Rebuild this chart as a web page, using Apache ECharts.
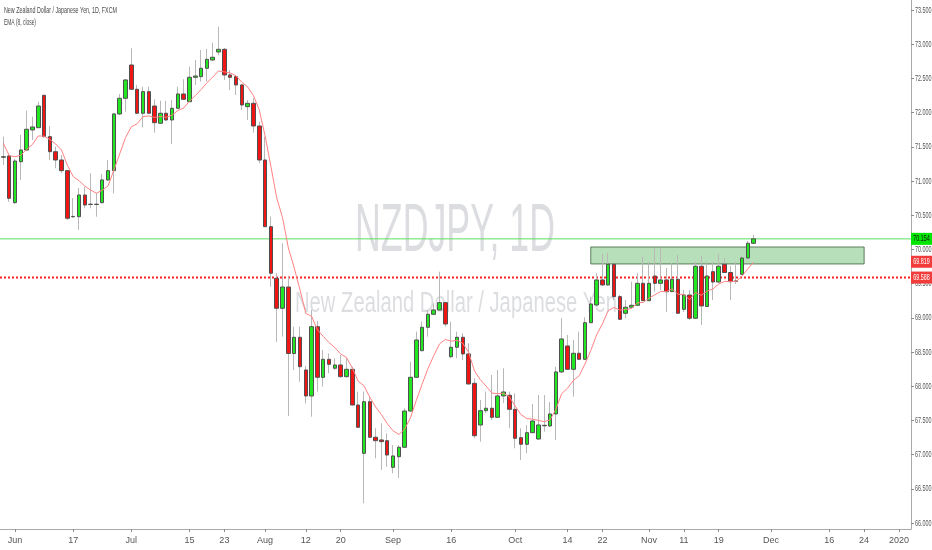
<!DOCTYPE html>
<html><head><meta charset="utf-8">
<script src="https://cdn.jsdelivr.net/npm/echarts@6/dist/echarts.min.js"></script>
<style>html,body{margin:0;padding:0;background:#fff}#main{width:932px;height:550px}</style>
</head><body><div id="main"></div>
<script>
// ---------- DATA ----------
const dates = [
'2019-05-30','2019-05-31',
'2019-06-03','2019-06-04','2019-06-05','2019-06-06','2019-06-07','2019-06-10','2019-06-11','2019-06-12','2019-06-13','2019-06-14',
'2019-06-17','2019-06-18','2019-06-19','2019-06-20','2019-06-21','2019-06-24','2019-06-25','2019-06-26','2019-06-27','2019-06-28',
'2019-07-01','2019-07-02','2019-07-03','2019-07-04','2019-07-05','2019-07-08','2019-07-09','2019-07-10','2019-07-11','2019-07-12',
'2019-07-15','2019-07-16','2019-07-17','2019-07-18','2019-07-19','2019-07-22','2019-07-23','2019-07-24','2019-07-25','2019-07-26',
'2019-07-29','2019-07-30','2019-07-31',
'2019-08-01','2019-08-02','2019-08-05','2019-08-06','2019-08-07','2019-08-08','2019-08-09','2019-08-12','2019-08-13','2019-08-14',
'2019-08-15','2019-08-16','2019-08-19','2019-08-20','2019-08-21','2019-08-22','2019-08-23','2019-08-26','2019-08-27','2019-08-28',
'2019-08-29','2019-08-30',
'2019-09-02','2019-09-03','2019-09-04','2019-09-05','2019-09-06','2019-09-09','2019-09-10','2019-09-11','2019-09-12','2019-09-13',
'2019-09-16','2019-09-17','2019-09-18','2019-09-19','2019-09-20','2019-09-23','2019-09-24','2019-09-25','2019-09-26','2019-09-27',
'2019-09-30',
'2019-10-01','2019-10-02','2019-10-03','2019-10-04','2019-10-07','2019-10-08','2019-10-09','2019-10-10','2019-10-11','2019-10-14',
'2019-10-15','2019-10-16','2019-10-17','2019-10-18','2019-10-21','2019-10-22','2019-10-23','2019-10-24','2019-10-25','2019-10-28',
'2019-10-29','2019-10-30','2019-10-31',
'2019-11-01','2019-11-04','2019-11-05','2019-11-06','2019-11-07','2019-11-08','2019-11-11','2019-11-12','2019-11-13','2019-11-14',
'2019-11-15','2019-11-18','2019-11-19','2019-11-20','2019-11-21','2019-11-22','2019-11-25','2019-11-26','2019-11-27','2019-11-28',
'2019-11-29',
'2019-12-02','2019-12-03','2019-12-04','2019-12-05','2019-12-06','2019-12-09','2019-12-10','2019-12-11','2019-12-12','2019-12-13',
'2019-12-16','2019-12-17','2019-12-18','2019-12-19','2019-12-20','2019-12-23','2019-12-24','2019-12-25','2019-12-26','2019-12-27',
'2019-12-30','2019-12-31',
'2020-01-01','2020-01-02','2020-01-03'
];

const opens = [
71.347,71.366,70.683,71.282,71.453,71.746,71.779,72.253,71.648,71.428,
71.307,71.151,70.477,70.478,70.795,70.656,70.656,70.683,71.015,71.151,
71.980,72.209,72.696,72.341,71.990,72.306,72.096,71.844,71.990,71.892,
72.063,72.272,72.159,72.516,72.525,72.648,72.769,72.886,72.925,72.550,
72.525,72.404,72.086,72.136,71.804,71.307,70.332,69.578,69.139,69.450,
68.478,68.715,68.237,67.857,68.870,68.130,68.393,68.262,68.310,68.139,
68.247,67.725,67.019,67.773,67.253,67.214,67.203,66.814,66.969,67.107,
67.637,68.130,68.519,68.861,69.051,69.114,69.221,68.431,68.569,68.715,
68.471,68.042,67.433,67.642,67.677,67.545,67.857,67.867,67.662,67.247,
67.151,67.320,67.228,67.428,67.418,67.594,68.208,68.588,68.247,68.481,
68.393,68.928,69.187,69.553,69.480,69.782,69.309,69.066,69.154,69.183,
69.504,69.250,69.611,69.504,69.553,69.382,69.563,69.124,69.333,68.993,
69.753,69.165,69.674,69.523,69.782,69.662,69.538,69.636,69.874,70.089
];
const closes = [
71.355,70.747,71.292,71.453,71.756,71.790,72.096,71.648,71.428,71.307,
71.151,70.455,70.482,70.795,70.649,70.661,70.661,71.015,71.151,71.980,
72.209,72.477,72.341,71.990,72.306,71.990,71.852,71.990,71.892,72.063,
72.272,72.194,72.516,72.535,72.648,72.779,72.809,72.925,72.550,72.516,
72.404,72.111,72.136,71.804,71.307,70.332,69.651,69.139,69.450,68.478,
68.715,68.285,67.857,68.870,68.130,68.393,68.320,68.310,68.139,68.247,
67.725,67.399,67.773,67.253,67.203,67.189,66.994,66.980,67.107,67.637,
68.130,68.675,68.861,69.051,69.114,69.221,68.909,68.569,68.715,68.471,
68.032,67.276,67.642,67.677,67.545,67.857,67.915,67.662,67.238,67.151,
67.320,67.491,67.433,67.421,67.594,68.208,68.690,68.247,68.481,68.393,
68.928,69.202,69.553,69.480,69.782,69.309,68.978,69.154,69.183,69.504,
69.250,69.504,69.504,69.553,69.382,69.563,69.066,69.333,68.993,69.753,
69.173,69.611,69.523,69.753,69.662,69.528,69.534,69.874,70.089,70.154
];
const lows = [
71.234,70.697,70.664,71.015,71.439,71.599,71.775,71.636,71.307,71.186,
71.113,70.430,70.459,70.284,70.601,70.601,70.478,70.671,71.000,70.820,
71.965,72.013,72.330,71.980,71.785,71.980,71.706,71.833,71.877,71.541,
72.053,72.184,72.155,72.404,72.452,72.452,72.754,72.842,72.477,72.330,
72.257,72.038,71.892,71.706,71.259,70.328,69.455,68.650,68.724,67.564,
68.237,68.066,67.750,67.554,67.920,67.993,68.189,68.237,68.127,68.127,
67.718,67.389,66.288,67.243,66.946,66.775,66.823,66.727,66.654,67.097,
67.623,68.120,68.507,68.724,69.041,69.107,68.870,68.408,68.408,68.383,
68.025,67.238,67.189,67.608,67.506,67.535,67.754,67.385,67.092,66.921,
67.019,67.316,67.214,67.335,67.404,67.214,68.193,68.237,67.847,68.383,
68.383,68.924,69.173,69.465,69.465,69.260,68.968,68.993,69.143,69.173,
69.246,69.246,69.382,69.406,69.085,69.377,69.056,69.085,68.968,68.983,
68.895,69.158,69.260,69.509,69.655,69.260,69.494,69.626,69.860,70.079
];
const highs = [
71.648,71.409,71.322,71.673,72.028,71.940,72.159,72.257,71.804,71.502,
71.380,71.161,70.751,70.898,70.917,71.113,70.825,71.102,71.307,71.994,
72.272,72.491,72.940,72.404,72.379,72.379,72.194,72.174,72.174,72.184,
72.379,72.487,72.671,72.769,72.915,72.930,73.022,73.256,72.944,72.623,
72.535,72.418,72.184,72.209,71.867,71.648,70.478,69.651,70.089,69.601,
68.870,68.870,68.295,69.114,68.953,68.529,68.481,68.408,68.456,68.408,
68.285,67.920,67.920,67.847,67.385,67.458,67.311,67.140,67.140,67.677,
68.358,68.797,68.943,69.114,69.212,69.674,69.231,68.943,68.797,68.773,
68.627,68.116,67.798,67.920,68.164,68.237,68.262,67.920,67.896,67.385,
67.433,67.740,67.871,67.871,67.769,68.285,68.993,68.749,68.675,68.797,
69.007,69.309,69.651,69.933,69.947,69.787,69.333,69.260,69.528,69.651,
69.893,69.816,70.016,70.020,69.728,69.801,69.918,69.406,69.406,69.816,
69.904,69.816,69.816,69.933,69.874,69.757,69.816,69.904,70.123,70.211
];

// EMA(8, close): value at the first visible bar
const emaFirst = 71.55;
const emaPeriod = 8;

const xTickDates = ['2019-06-03','2019-06-17','2019-07-01','2019-07-15','2019-07-23','2019-08-01','2019-08-12','2019-08-20',
  '2019-09-02','2019-09-16','2019-10-01','2019-10-14','2019-10-22','2019-11-01','2019-11-11','2019-11-19',
  '2019-12-02','2019-12-16','2019-12-24','2020-01-01'];
const xTickLabels = ['Jun','17','Jul','15','23','Aug','12','20','Sep','16','Oct','14','22','Nov','11','19','Dec','16','24','2020'];
const yTicks = [66.0,66.5,67.0,67.5,68.0,68.5,69.0,69.5,70.0,70.5,71.0,71.5,72.0,72.5,73.0,73.5];

const lastPrice = 70.154;
const emaLabelValue = 69.819;
const supportLevel = 69.588;
const zoneDates = ['2019-10-18','2019-12-24'];
const zonePrices = [69.787, 70.035];

const titleText = 'New Zealand Dollar / Japanese Yen, 1D, FXCM';
const indicatorText = 'EMA (8, close)';
const watermarkBig = 'NZDJPY, 1D';
const watermarkSmall = 'New Zealand Dollar / Japanese Yen';

// ---------- BUILD ----------
const FONT = '"Liberation Sans", Arial, sans-serif';
const X_MIN = -0.58, X_MAX = 156.06;
const idx = d => dates.indexOf(d);
const candleData = opens.map((o, i) => [i, o, closes[i], lows[i], highs[i]]);
const bodyData = opens.map((o, i) => [i, o, closes[i], Math.min(o, closes[i]), Math.max(o, closes[i])]);
const ema = [emaFirst];
const k = 2 / (emaPeriod + 1);
for (let i = 1; i < closes.length; i++) ema.push(ema[i - 1] + k * (closes[i] - ema[i - 1]));
const emaData = ema.map((v, i) => [i, v]);
const xTickIdx = xTickDates.map(idx);
const xLabelMap = {};
xTickIdx.forEach((v, i) => { xLabelMap[v] = xTickLabels[i]; });

const chart = echarts.init(document.getElementById('main'), null, {renderer: 'canvas'});
const option = {
  animation: false,
  backgroundColor: '#ffffff',
  grid: {left: 0, right: 21, top: 0, bottom: 21, containLabel: false},
  xAxis: {
    type: 'value', min: X_MIN, max: X_MAX,
    axisLine: {show: true, onZero: false, lineStyle: {color: '#a9a9a9', width: 1}},
    axisTick: {show: true, customValues: xTickIdx, length: 3, lineStyle: {color: '#8a8a8a'}},
    axisLabel: {show: true, customValues: xTickIdx, formatter: v => xLabelMap[Math.round(v)] || '',
      color: '#555', fontSize: 9, fontFamily: FONT, margin: 7},
    splitLine: {show: false}
  },
  yAxis: {
    type: 'value', position: 'right', min: 65.912, max: 73.646,
    axisLine: {show: true, onZero: false, lineStyle: {color: '#a9a9a9', width: 1}},
    axisTick: {show: true, customValues: yTicks, length: 3, lineStyle: {color: '#8a8a8a'}},
    axisLabel: {show: false},
    splitLine: {show: false}
  },
  series: [
    {
      name: 'zone', type: 'line', data: [], z: 1, silent: true,
      markArea: {
        silent: true,
        itemStyle: {color: 'rgba(76,175,80,0.40)', borderColor: 'rgba(70,105,70,0.85)', borderWidth: 1},
        data: [[{xAxis: idx(zoneDates[0]), yAxis: zonePrices[1]}, {xAxis: idx(zoneDates[1]), yAxis: zonePrices[0]}]]
      }
    },
    {
      name: 'last price', type: 'line', z: 1, silent: true, showSymbol: false,
      data: [[X_MIN, lastPrice], [X_MAX, lastPrice]],
      lineStyle: {color: '#5ee05e', width: 1}
    },
    {
      name: 'support', type: 'line', z: 1, silent: true, showSymbol: false,
      data: [[X_MIN, supportLevel], [X_MAX, supportLevel]],
      lineStyle: {color: '#ff2020', width: 2, type: [2, 2]}
    },
    {
      name: 'wicks', type: 'candlestick', data: candleData, z: 2, barWidth: 1, silent: true,
      encode: {x: 0, y: [1, 2, 3, 4]},
      itemStyle: {color: '#b8b8b8', color0: '#b8b8b8', borderColor: '#b8b8b8', borderColor0: '#b8b8b8', borderWidth: 1}
    },
    {
      name: 'NZDJPY', type: 'candlestick', data: bodyData, z: 3, barWidth: 4,
      encode: {x: 0, y: [1, 2, 3, 4]},
      itemStyle: {color: '#22e622', color0: '#f01616', borderColor: '#505050', borderColor0: '#505050', borderWidth: 1}
    },
    {
      name: 'EMA (8, close)', type: 'line', data: emaData, z: 4, showSymbol: false, silent: true,
      lineStyle: {color: '#ff8282', width: 1}
    }
  ]
};
chart.setOption(option);

// ---------- TEXT OVERLAYS (condensed like the reference) ----------
const mctx = document.createElement('canvas').getContext('2d');
function textW(t, size) { mctx.font = size + 'px ' + FONT; return mctx.measureText(t).width; }
const SQ = 0.57;
const py = v => chart.convertToPixel({yAxisIndex: 0}, v);
const plotRight = chart.convertToPixel({xAxisIndex: 0}, X_MAX);
const g = [];
g.push({type: 'text', x: 455, y: 232, z: 0, scaleX: 200 / textW(watermarkBig, 68), silent: true,
  style: {text: watermarkBig, fill: 'rgba(149,152,161,0.33)', fontSize: 68, fontFamily: FONT, align: 'center', verticalAlign: 'middle'}});
g.push({type: 'text', x: 456, y: 304, z: 0, scaleX: 322 / textW(watermarkSmall, 30), silent: true,
  style: {text: watermarkSmall, fill: 'rgba(149,152,161,0.33)', fontSize: 30, fontFamily: FONT, align: 'center', verticalAlign: 'middle'}});
g.push({type: 'text', x: 4, y: 11, z: 10, scaleX: 113 / textW(titleText, 9), silent: true,
  style: {text: titleText, fill: '#4a4a4a', fontSize: 9, fontFamily: FONT, align: 'left', verticalAlign: 'middle'}});
g.push({type: 'text', x: 4, y: 23, z: 10, scaleX: 32 / textW(indicatorText, 9), silent: true,
  style: {text: indicatorText, fill: '#4a4a4a', fontSize: 9, fontFamily: FONT, align: 'left', verticalAlign: 'middle'}});
yTicks.forEach(v => {
  g.push({type: 'text', x: plotRight + 4, y: py(v), z: 10, scaleX: SQ, silent: true,
    style: {text: v.toFixed(3), fill: '#555', fontSize: 9.5, fontFamily: FONT, align: 'left', verticalAlign: 'middle'}});
});
[[lastPrice, '#00e600', '#1a1a1a'], [emaLabelValue, '#f23b3b', '#ffffff'], [supportLevel, '#f23b3b', '#ffffff']].forEach(([v, bg, fg]) => {
  const y = py(v);
  g.push({type: 'rect', z: 20, silent: true, shape: {x: plotRight, y: y - 6, width: 932 - plotRight, height: 12}, style: {fill: bg}});
  g.push({type: 'text', x: plotRight + (932 - plotRight) / 2, y: y, z: 21, scaleX: SQ, silent: true,
    style: {text: v.toFixed(3), fill: fg, fontSize: 9.5, fontFamily: FONT, align: 'center', verticalAlign: 'middle'}});
});
chart.setOption({graphic: g});
</script>
</body></html>
